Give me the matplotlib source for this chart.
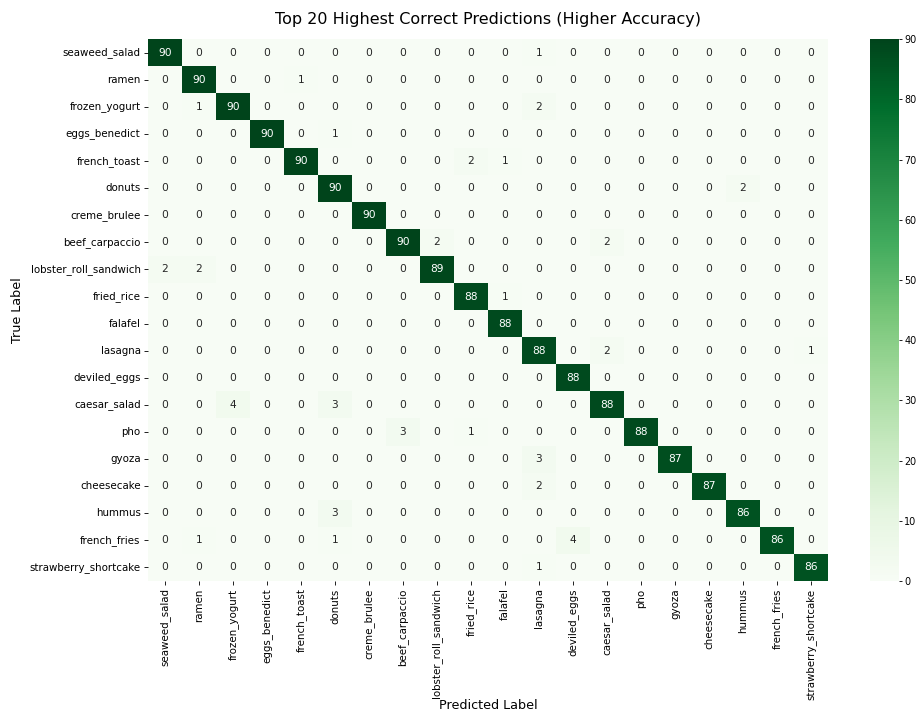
import numpy as np
import matplotlib
matplotlib.use("Agg")
import matplotlib.pyplot as plt
import seaborn as sns

classes = ["seaweed_salad", "ramen", "frozen_yogurt", "eggs_benedict", "french_toast",
           "donuts", "creme_brulee", "beef_carpaccio", "lobster_roll_sandwich", "fried_rice",
           "falafel", "lasagna", "deviled_eggs", "caesar_salad", "pho", "gyoza",
           "cheesecake", "hummus", "french_fries", "strawberry_shortcake"]

correct = [90, 90, 90, 90, 90, 90, 90, 90, 89, 88, 88, 88, 88, 88, 88, 87, 87, 86, 86, 86]

# off-diagonal confusions: (true index, predicted index, count)
confusions = [
    (0, 11, 1), (1, 4, 1), (2, 1, 1), (2, 11, 2), (3, 5, 1),
    (4, 9, 2), (4, 10, 1), (5, 17, 2), (7, 8, 2), (7, 13, 2),
    (8, 0, 2), (8, 1, 2), (9, 10, 1), (11, 13, 2), (11, 19, 1),
    (13, 2, 4), (13, 5, 3), (14, 7, 3), (14, 9, 1), (15, 11, 3),
    (16, 11, 2), (17, 5, 3), (18, 1, 1), (18, 5, 1), (18, 12, 4),
    (19, 11, 1),
]

n = len(classes)
cm = np.zeros((n, n), dtype=int)
for i, v in enumerate(correct):
    cm[i, i] = v
for r, c, v in confusions:
    cm[r, c] = v

DPI = 76.5
fig = plt.figure(figsize=(918 / DPI, 713 / DPI), dpi=DPI)
ax = fig.add_axes([0.1612, 0.1851, 0.7407, 0.760])
cax = fig.add_axes([0.9477, 0.1851, 0.0316, 0.760])

sns.heatmap(cm, annot=True, fmt="d", cmap="Greens", vmin=0, vmax=90,
            xticklabels=classes, yticklabels=classes, ax=ax, cbar_ax=cax,
            annot_kws={"fontsize": 10})

ax.set_title("Top 20 Highest Correct Predictions (Higher Accuracy)", fontsize=15, pad=14)
ax.set_xlabel("Predicted Label", fontsize=12)
ax.set_ylabel("True Label", fontsize=12)
ax.tick_params(axis="both", labelsize=9.7)
plt.setp(ax.get_xticklabels(), rotation=90)
plt.setp(ax.get_yticklabels(), rotation=0)
ax.xaxis.set_label_coords(0.5, -0.218)
ax.yaxis.set_label_coords(-0.182, 0.5)
cax.tick_params(labelsize=9, length=3, pad=2)

fig.savefig("out.png", dpi=DPI)
